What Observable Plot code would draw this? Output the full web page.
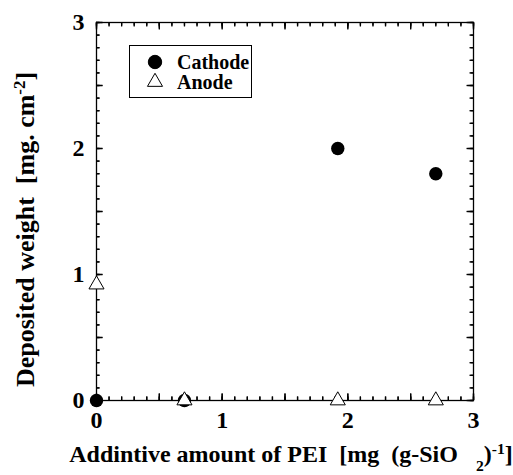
<!DOCTYPE html>
<html><head><meta charset="utf-8">
<script src="https://cdn.jsdelivr.net/npm/d3@7"></script>
<script src="https://cdn.jsdelivr.net/npm/@observablehq/plot@0.6"></script>
<style>body{margin:0;background:#fff}</style>
</head><body><div id="chart"></div>
<script>
// Data
const pei = [0, 0.7, 1.92, 2.7];          // additive amount of PEI [mg (g-SiO2)^-1]
const cathode = [0, 0, 2.0, 1.8];         // deposited weight on cathode [mg cm^-2]
const anode = [0.92, 0, 0, 0];            // deposited weight on anode [mg cm^-2]
const seriesNames = ["Cathode", "Anode"];
const xTickLabels = [0, 1, 2, 3];
const yTickLabels = [0, 1, 2, 3];

const cathodePts = pei.map((x, i) => ({x, y: cathode[i]}));
const anodePts = pei.map((x, i) => ({x, y: anode[i]}));
const minorTicks = d3.ticks(0, 3, 30);
const majorTicks = d3.ticks(0, 3, 6);

const W = 513, H = 475, ML = 96, MR = 40, MT = 22, MB = 75;
const xPerPx = 3 / (W - ML - MR), yPerPx = 3 / (H - MT - MB);

const font = "'Liberation Serif','Times New Roman',serif";
const none = () => "";
// inward ticks: outward axis ticks shifted inward by their own length
const tickMarks = (t, len) => [
  Plot.axisX(t, {anchor: "bottom", tickSize: len, dy: -len, tickFormat: none, label: null, stroke: "black", strokeWidth: 1.3}),
  Plot.axisX(t, {anchor: "top", tickSize: len, dy: len, tickFormat: none, label: null, stroke: "black", strokeWidth: 1.3}),
  Plot.axisY(t, {anchor: "left", tickSize: len, dx: len, tickFormat: none, label: null, stroke: "black", strokeWidth: 1.3}),
  Plot.axisY(t, {anchor: "right", tickSize: len, dx: -len, tickFormat: none, label: null, stroke: "black", strokeWidth: 1.3}),
  // same ticks drawn as rules in data space
  Plot.ruleX(t, {x: d => d, y1: 0, y2: len * yPerPx, stroke: "black", strokeWidth: 1.3}),
  Plot.ruleX(t, {x: d => d, y1: 3, y2: 3 - len * yPerPx, stroke: "black", strokeWidth: 1.3}),
  Plot.ruleY(t, {y: d => d, x1: 0, x2: len * xPerPx, stroke: "black", strokeWidth: 1.3}),
  Plot.ruleY(t, {y: d => d, x1: 3, x2: 3 - len * xPerPx, stroke: "black", strokeWidth: 1.3})
];

const svg = Plot.plot({
  width: W, height: H,
  marginLeft: ML, marginRight: MR, marginTop: MT, marginBottom: MB,
  x: {domain: [0, 3]},
  y: {domain: [0, 3]},
  style: {fontFamily: font, fontWeight: "bold", background: "white", color: "black"},
  marks: [
    Plot.axisX(xTickLabels, {anchor: "bottom", tickSize: 0, tickPadding: 10, fontSize: 24, tickFormat: d3.format("d"), label: null}),
    Plot.axisY(yTickLabels, {anchor: "left", tickSize: 0, tickPadding: 12, fontSize: 24, tickFormat: d3.format("d"), label: null}),
    Plot.frame({stroke: "black", strokeWidth: 1.3}),
    ...tickMarks(minorTicks, 3.5),
    ...tickMarks(majorTicks, 6.5),
    Plot.dot(cathodePts, {x: "x", y: "y", r: 6.7, fill: "black", stroke: null}),
    Plot.dot(anodePts, {x: "x", y: "y", symbol: "triangle", r: 5.6, fill: "white", stroke: "black", strokeWidth: 1}),
    Plot.text(["x-title"], {frameAnchor: "bottom", textAnchor: "middle", lineAnchor: "bottom", dx: 6, dy: 61, fontSize: 24, className: "xtitle", text: d => d}),
    Plot.text(["y-title"], {frameAnchor: "left", textAnchor: "middle", lineAnchor: "middle", dx: -71, dy: 18, rotate: -90, fontSize: 26, className: "ytitle", text: d => d})
  ]
});

function richify(el, parts) {
  if (!el) return;
  const t = d3.select(el);
  t.text(null).style("white-space", "pre");
  for (const [s, kind] of parts) {
    const ts = t.append("tspan").text(s);
    if (kind === "sup") ts.attr("baseline-shift", "super").attr("font-size", "65%");
    if (kind === "sub") ts.attr("baseline-shift", "sub").attr("font-size", "65%");
  }
}
richify(svg.querySelector("g.xtitle text"), [
  ["Addintive amount of PEI  [mg  (g-SiO   "], ["2", "sub"], [")"], ["-1", "sup"], ["]"]
]);
richify(svg.querySelector("g.ytitle text"), [
  ["Deposited weight  [mg. cm"], ["-2", "sup"], ["]"]
]);

// Legend
const lg = d3.select(svg).append("g").attr("font-family", font).attr("font-weight", "bold").attr("text-anchor", "start");
lg.append("rect").attr("x", 129.5).attr("y", 45.5).attr("width", 122).attr("height", 52)
  .attr("fill", "white").attr("stroke", "black").attr("stroke-width", 1);
const legendRows = [
  {name: seriesNames[0], y: 62, sym: d3.symbolCircle, fill: "black", size: Math.PI * 6.7 * 6.7},
  {name: seriesNames[1], y: 82, sym: d3.symbolTriangle, fill: "white", size: Math.PI * 5.6 * 5.6}
];
for (const r of legendRows) {
  lg.append("path").attr("d", d3.symbol(r.sym, r.size)()).attr("transform", `translate(155,${r.y})`)
    .attr("fill", r.fill).attr("stroke", "black").attr("stroke-width", 1);
  lg.append("text").attr("x", 177).attr("y", r.y).attr("dy", "0.35em").attr("font-size", 20)
    .attr("text-anchor", "start").attr("fill", "black").text(r.name);
}

document.getElementById("chart").append(svg);
</script>
</body></html>
